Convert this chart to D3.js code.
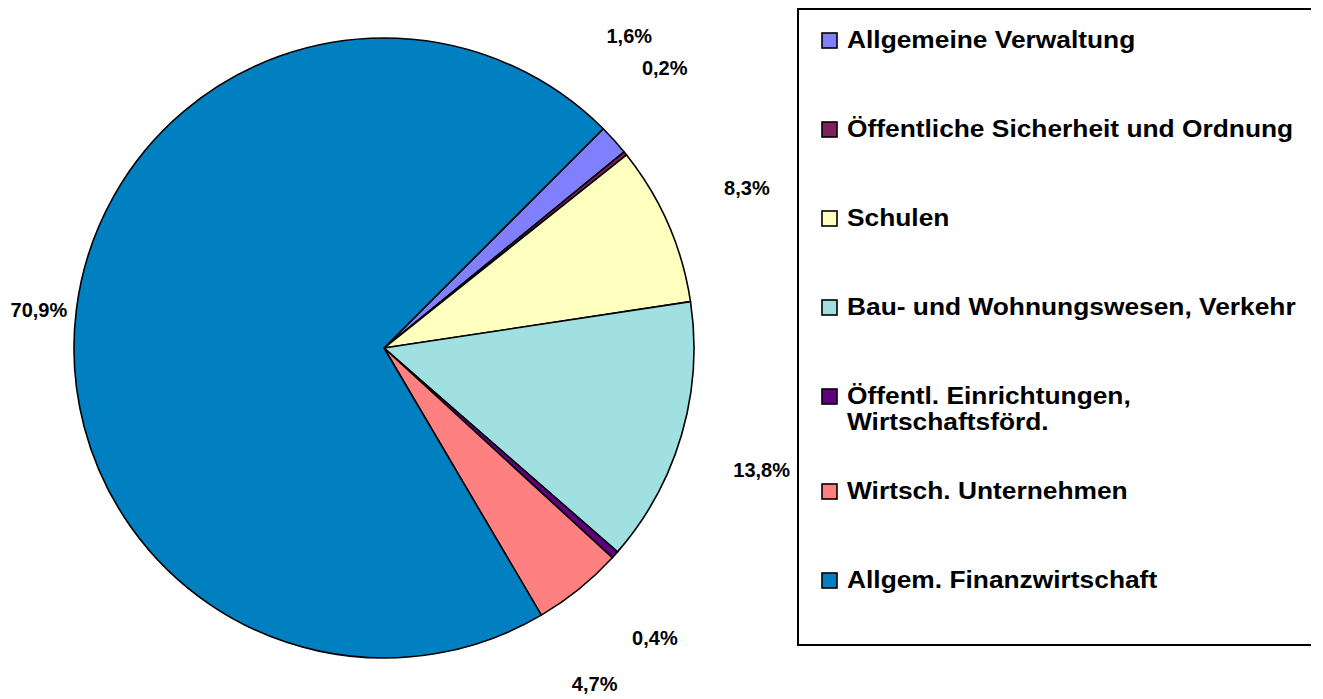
<!DOCTYPE html>
<meta charset="utf-8">
<style>
  body { margin: 0; background: #fff; }
  text { font-family: "Liberation Sans", Arial, sans-serif; font-weight: bold; }
</style>
<body>
<svg width="1323" height="699"></svg>
<script src="https://d3js.org/d3.v7.min.js"></script>
<script>

// data
var categories = [
  "Allgemeine Verwaltung",
  "Öffentliche Sicherheit und Ordnung",
  "Schulen",
  "Bau- und Wohnungswesen, Verkehr",
  "Öffentl. Einrichtungen,\nWirtschaftsförd.",
  "Wirtsch. Unternehmen",
  "Allgem. Finanzwirtschaft"
];
var shares = [1.6, 0.2, 8.3, 13.8, 0.4, 4.7, 70.9];
var shareLabels = ["1,6%", "0,2%", "8,3%", "13,8%", "0,4%", "4,7%", "70,9%"];
var sliceColors = ["#8080FF", "#802060", "#FFFFC0", "#A0E0E0", "#600080", "#FF8080", "#0080C0"];

// labels were moved a bit off the slice middle (degrees)
var labelNudgeDeg = [-9.7, -6.1, -0.3, 1.6, 5.1, 6.9, -0.4];

var svg = d3.select("svg");
var cx = 384, cy = 348, R = 310;

var pie = d3.pie().sort(null)
  .startAngle(Math.PI / 4)
  .endAngle(Math.PI / 4 + 2 * Math.PI);
var arcs = pie(shares);

var arc = d3.arc().innerRadius(0).outerRadius(R);

var g = svg.append("g").attr("transform", "translate(" + cx + "," + cy + ")");

g.selectAll("path.slice")
  .data(arcs)
  .enter().append("path")
  .attr("class", "slice")
  .attr("d", arc)
  .attr("fill", (d, i) => sliceColors[i])
  .attr("stroke", "#000")
  .attr("stroke-width", 1.6)
  .attr("stroke-linejoin", "round");

// percentage labels
g.selectAll("text.lbl")
  .data(arcs)
  .enter().append("text")
  .attr("class", "lbl")
  .style("font-size", "20px")
  .attr("fill", "#000")
  .each(function(d, i) {
    var a = (d.startAngle + d.endAngle) / 2 + labelNudgeDeg[i] * Math.PI / 180;
    var left = Math.sin(a) < 0;
    var r = left ? R + 9 : R * 1.28;
    d3.select(this)
      .attr("x", Math.sin(a) * r)
      .attr("y", -Math.cos(a) * r)
      .attr("dy", "0.35em")
      .attr("text-anchor", left ? "end" : "middle")
      .text(shareLabels[i]);
  });

// legend box (right edge runs off the picture)
svg.append("path")
  .attr("d", "M1311,9H798V645H1311")
  .attr("fill", "none")
  .attr("stroke", "#000")
  .attr("stroke-width", 2);

var legend = svg.append("g");
var rowY = (i) => 48 + 89 * i + (i >= 5 ? 6 : 0);

var item = legend.selectAll("g.item")
  .data(categories)
  .enter().append("g")
  .attr("class", "item")
  .attr("transform", (d, i) => "translate(0," + rowY(i) + ")");

item.append("rect")
  .attr("x", 822)
  .attr("y", -15)
  .attr("width", 15)
  .attr("height", 15)
  .attr("fill", (d, i) => sliceColors[i])
  .attr("stroke", "#000")
  .attr("stroke-width", 1.6);

item.append("text")
  .attr("transform", "translate(847,0) scale(1.145,1)")
  .style("font-size", "23px")
  .attr("fill", "#000")
  .selectAll("tspan")
  .data(d => d.split("\n"))
  .enter().append("tspan")
  .attr("x", 0)
  .attr("y", (d, j) => j * 26)
  .text(d => d);

</script>
</body>
